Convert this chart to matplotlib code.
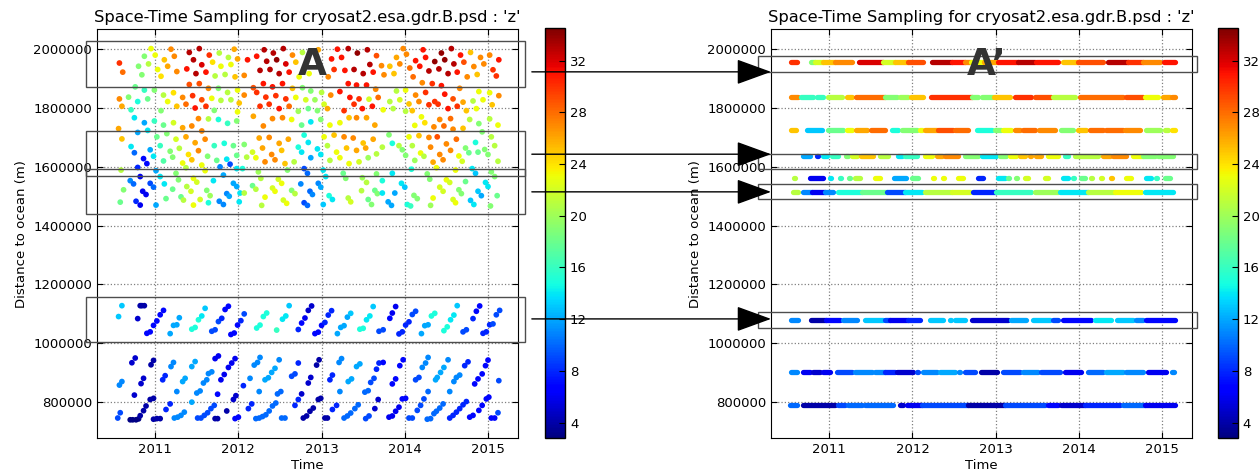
import numpy as np
import matplotlib
matplotlib.use("Agg")
import matplotlib.pyplot as plt
from matplotlib.patches import Rectangle, ConnectionPatch
from matplotlib.collections import LineCollection
import matplotlib.transforms as mtransforms

# ---- left panel: (time in years, distance in km, z) ----
upper_pts = [
    # 2010.5 - 2012
    (2010.95, 2002, 23), (2011.19, 2000, 27), (2011.41, 1989, 33), (2011.53, 2002, 33), (2011.65, 1980, 30),
    (2011.77, 1987, 21), (2011.95, 2000, 26), (2010.57, 1953, 30), (2010.61, 1922, 28), (2010.80, 1942, 19),
    (2010.87, 1976, 19), (2010.92, 1950, 21), (2010.84, 1913, 19), (2011.00, 1980, 23), (2011.11, 1964, 25),
    (2011.15, 1942, 26), (2011.23, 1976, 27), (2011.03, 1931, 23), (2011.07, 1908, 24), (2011.26, 1924, 27),
    (2011.38, 1933, 31), (2011.46, 1964, 33), (2011.49, 1917, 33), (2011.56, 1947, 32), (2011.61, 1922, 31),
    (2011.69, 1956, 24), (2011.72, 1909, 21), (2011.79, 1942, 23), (2011.84, 1914, 21), (2011.88, 1972, 21),
    (2011.91, 1948, 23), (2011.96, 1906, 25), (2011.99, 1967, 26),
    (2010.76, 1872, 18), (2010.87, 1861, 16), (2010.99, 1861, 19), (2011.10, 1844, 21), (2011.22, 1852, 24),
    (2011.33, 1836, 27), (2011.41, 1880, 29), (2011.53, 1883, 29), (2011.45, 1842, 30), (2011.64, 1867, 27),
    (2011.76, 1867, 19), (2011.87, 1853, 21), (2011.99, 1861, 23), (2010.57, 1831, 27), (2010.68, 1837, 19),
    (2010.79, 1822, 15), (2010.91, 1831, 18), (2011.15, 1822, 23), (2011.26, 1806, 25), (2011.37, 1813, 28),
    (2011.56, 1828, 29), (2011.68, 1833, 23), (2011.79, 1826, 21), (2011.91, 1828, 21), (2012.01, 1817, 25),
    (2010.60, 1806, 26), (2010.71, 1794, 16), (2011.07, 1791, 19), (2011.48, 1800, 31), (2011.61, 1806, 30),
    (2011.71, 1792, 19), (2011.99, 1787, 23), (2010.75, 1767, 14), (2010.87, 1750, 12), (2010.99, 1756, 16),
    (2011.10, 1742, 18), (2011.22, 1750, 22), (2011.33, 1733, 26), (2011.44, 1739, 27), (2011.52, 1764, 27),
    (2011.64, 1763, 21), (2011.76, 1761, 15), (2011.87, 1748, 16), (2011.98, 1756, 19),
    (2010.56, 1730, 26), (2010.60, 1695, 25), (2010.79, 1717, 12), (2010.91, 1724, 14), (2011.02, 1702, 18),
    (2011.14, 1713, 19), (2011.25, 1694, 22), (2011.37, 1702, 26), (2011.48, 1682, 26), (2011.56, 1722, 27),
    (2011.60, 1694, 27), (2011.71, 1672, 16), (2011.83, 1680, 15), (2011.94, 1672, 18), (2010.71, 1669, 14),
    (2010.75, 1648, 10), (2010.94, 1658, 12), (2011.06, 1672, 16), (2011.18, 1653, 19), (2011.29, 1663, 21),
    (2011.40, 1642, 24), (2011.44, 1624, 25), (2011.52, 1655, 27), (2011.63, 1636, 19), (2011.74, 1622, 18),
    (2011.86, 1626, 14), (2011.98, 1639, 18), (2010.86, 1628, 7), (2010.90, 1611, 7), (2010.98, 1636, 14),
    (2011.10, 1620, 17), (2011.21, 1633, 19), (2011.33, 1613, 23), (2011.37, 1597, 21), (2011.56, 1606, 23),
    (2011.60, 1587, 23), (2011.78, 1600, 11), (2011.90, 1609, 9), (2011.98, 1594, 14),
    (2010.59, 1589, 21), (2010.79, 1598, 8), (2010.82, 1567, 6), (2011.01, 1587, 12), (2011.06, 1567, 14),
    (2011.25, 1578, 19), (2011.28, 1556, 19), (2011.46, 1561, 23), (2011.50, 1548, 22), (2011.70, 1553, 14),
    (2011.82, 1572, 12), (2011.94, 1544, 12), (2011.98, 1533, 12), (2010.70, 1553, 11), (2010.74, 1542, 10),
    (2010.85, 1517, 6), (2010.89, 1506, 6), (2010.94, 1544, 9), (2010.98, 1531, 10), (2011.11, 1542, 14),
    (2011.21, 1524, 18), (2011.38, 1533, 21), (2011.43, 1517, 22), (2011.62, 1520, 19), (2011.66, 1502, 20),
    (2011.86, 1509, 11), (2011.89, 1500, 12), (2012.02, 1511, 14), (2010.62, 1522, 19), (2010.58, 1480, 18),
    (2010.77, 1483, 8), (2010.82, 1470, 6), (2011.01, 1470, 12), (2011.13, 1492, 18), (2011.31, 1498, 18),
    (2011.34, 1487, 21), (2011.46, 1470, 23), (2011.54, 1489, 22), (2011.64, 1478, 15), (2011.77, 1483, 11),
    (2011.82, 1472, 11), (2012.01, 1481, 14),
    # 2012 - 2013.7
    (2012.07, 1911, 27), (2012.11, 1964, 31), (2012.22, 1976, 31), (2012.31, 1998, 33), (2012.34, 1959, 33),
    (2012.42, 1987, 33), (2012.46, 1964, 34), (2012.54, 2002, 33), (2012.57, 1950, 32), (2012.26, 1928, 33),
    (2012.38, 1931, 33), (2012.49, 1917, 33), (2012.61, 1922, 31), (2012.65, 1980, 27), (2012.69, 1956, 25),
    (2012.77, 1989, 21), (2012.73, 1906, 23), (2012.85, 1917, 23), (2012.96, 1998, 26), (2013.12, 1967, 31),
    (2013.19, 2000, 31), (2013.24, 1972, 31), (2013.32, 2002, 33), (2013.43, 1987, 34), (2013.55, 1998, 33),
    (2013.66, 1978, 29), (2013.08, 1906, 27), (2013.15, 1931, 30), (2013.28, 1928, 31), (2013.39, 1931, 33),
    (2013.50, 1917, 33), (2013.58, 1948, 33), (2013.62, 1922, 31), (2013.72, 1944, 27),
    (2012.07, 1844, 27), (2012.18, 1869, 29), (2012.30, 1883, 31), (2012.41, 1872, 31), (2012.53, 1883, 31),
    (2012.65, 1867, 25), (2012.77, 1869, 19), (2012.87, 1858, 19), (2013.00, 1853, 21), (2012.22, 1853, 30),
    (2012.33, 1837, 30), (2012.45, 1842, 30), (2012.57, 1831, 30), (2012.69, 1836, 23), (2012.81, 1828, 22),
    (2012.92, 1828, 20), (2013.03, 1813, 22), (2013.11, 1844, 27), (2013.22, 1856, 31), (2013.32, 1883, 31),
    (2013.42, 1878, 31), (2013.54, 1878, 31), (2013.65, 1864, 27), (2013.34, 1836, 31), (2013.45, 1831, 30),
    (2013.57, 1830, 22), (2013.68, 1836, 28), (2012.26, 1806, 30), (2012.37, 1813, 30), (2012.49, 1798, 31),
    (2012.61, 1806, 28), (2012.72, 1789, 20), (2012.84, 1798, 18), (2012.95, 1791, 19), (2013.07, 1798, 26),
    (2013.27, 1791, 30), (2013.39, 1813, 30), (2013.49, 1798, 31), (2013.61, 1806, 31), (2012.18, 1772, 26),
    (2012.30, 1739, 27), (2012.41, 1764, 27), (2012.53, 1767, 27), (2012.64, 1761, 23), (2012.76, 1742, 18),
    (2012.87, 1753, 14), (2012.99, 1761, 19), (2013.10, 1742, 23), (2013.22, 1750, 23), (2013.33, 1767, 25),
    (2013.42, 1767, 27), (2013.54, 1767, 26), (2013.64, 1742, 26),
    (2012.07, 1676, 19), (2012.25, 1698, 26), (2012.37, 1700, 27), (2012.49, 1680, 26), (2012.60, 1694, 26),
    (2012.79, 1708, 15), (2012.84, 1683, 14), (2012.72, 1667, 15), (2013.03, 1702, 23), (2013.15, 1708, 25),
    (2013.27, 1702, 27), (2013.38, 1698, 27), (2013.50, 1681, 25), (2013.62, 1694, 26), (2012.17, 1650, 22),
    (2012.29, 1664, 26), (2012.40, 1642, 27), (2012.52, 1656, 25), (2012.76, 1650, 14), (2012.95, 1661, 14),
    (2013.07, 1672, 21), (2013.18, 1650, 23), (2013.30, 1664, 25), (2013.42, 1656, 26), (2013.53, 1664, 26),
    (2013.66, 1644, 21), (2012.10, 1633, 21), (2012.21, 1631, 23), (2012.32, 1617, 27), (2012.44, 1624, 27),
    (2012.56, 1611, 25), (2012.67, 1617, 21), (2012.87, 1631, 12), (2012.99, 1642, 14), (2013.10, 1622, 21),
    (2013.22, 1631, 23), (2013.33, 1611, 23), (2013.45, 1617, 22), (2013.56, 1631, 20),
    (2012.05, 1594, 15), (2012.24, 1583, 20), (2012.27, 1561, 21), (2012.48, 1558, 22), (2012.52, 1544, 23),
    (2012.59, 1589, 19), (2012.79, 1594, 9), (2012.83, 1578, 10), (2013.02, 1589, 14), (2013.05, 1567, 14),
    (2013.26, 1578, 18), (2013.29, 1561, 19), (2013.49, 1563, 20), (2013.54, 1547, 21), (2013.66, 1576, 19),
    (2012.07, 1511, 21), (2012.17, 1536, 18), (2012.21, 1524, 21), (2012.41, 1528, 22), (2012.44, 1517, 23),
    (2012.64, 1520, 19), (2012.68, 1509, 21), (2012.75, 1542, 11), (2012.86, 1517, 10), (2012.89, 1506, 11),
    (2012.96, 1544, 11), (2012.99, 1531, 12), (2013.09, 1502, 15), (2013.13, 1489, 14), (2013.48, 1519, 21),
    (2013.64, 1520, 18), (2013.67, 1509, 19), (2012.28, 1469, 21), (2012.32, 1497, 23), (2012.54, 1487, 22),
    (2012.58, 1476, 23), (2012.79, 1478, 9), (2012.83, 1469, 10), (2013.02, 1472, 13), (2013.32, 1494, 21),
    (2013.35, 1481, 22), (2013.56, 1489, 18), (2013.60, 1472, 19),
    # 2013.7 - 2015.2
    (2013.98, 2002, 27), (2013.90, 1972, 26), (2014.02, 1983, 27), (2013.82, 1942, 25), (2013.94, 1950, 27),
    (2014.06, 1936, 28), (2013.75, 1913, 27), (2013.87, 1917, 25), (2014.10, 1906, 28), (2014.13, 1961, 31),
    (2014.18, 1942, 31), (2014.22, 1998, 31), (2014.25, 1972, 31), (2014.29, 1926, 33), (2014.36, 1958, 34),
    (2014.41, 1933, 33), (2014.44, 1987, 34), (2014.48, 1964, 34), (2014.52, 1917, 33), (2014.56, 2002, 33),
    (2014.59, 1950, 33), (2014.63, 1922, 31), (2014.67, 1980, 31), (2014.71, 1956, 29), (2014.75, 1906, 27),
    (2014.79, 1989, 25), (2014.83, 1941, 27), (2014.87, 1914, 25), (2014.91, 1972, 27), (2014.95, 1950, 27),
    (2015.02, 1980, 27), (2015.06, 1930, 30), (2015.10, 1909, 30), (2015.13, 1964, 31),
    (2014.21, 1886, 27), (2014.33, 1883, 30), (2014.44, 1876, 31), (2014.66, 1867, 27), (2013.82, 1822, 21),
    (2013.90, 1858, 21), (2013.94, 1828, 22), (2014.01, 1861, 23), (2014.05, 1814, 25), (2014.13, 1844, 27),
    (2014.17, 1822, 27), (2014.25, 1853, 30), (2014.29, 1811, 30), (2014.36, 1822, 30), (2014.40, 1813, 30),
    (2014.48, 1847, 31), (2014.52, 1798, 31), (2014.58, 1831, 29), (2014.63, 1806, 30), (2014.70, 1820, 26),
    (2014.74, 1791, 25), (2014.82, 1824, 21), (2014.86, 1798, 23), (2014.89, 1856, 23), (2014.94, 1828, 23),
    (2015.02, 1852, 23), (2015.05, 1811, 25), (2015.13, 1842, 27), (2013.74, 1794, 23), (2013.86, 1798, 21),
    (2014.01, 1789, 21), (2014.09, 1791, 25), (2014.20, 1770, 23), (2014.24, 1750, 24), (2014.12, 1741, 23),
    (2014.35, 1736, 27), (2014.42, 1761, 27), (2014.47, 1739, 28), (2014.55, 1764, 28), (2014.58, 1728, 27),
    (2014.70, 1731, 25), (2014.78, 1761, 21), (2014.89, 1747, 19), (2015.02, 1763, 21), (2015.12, 1742, 23),
    (2013.81, 1709, 19), (2013.85, 1680, 15), (2013.93, 1672, 21), (2014.05, 1702, 23), (2014.09, 1672, 21),
    (2014.17, 1706, 25), (2014.29, 1700, 27), (2014.31, 1667, 27), (2014.39, 1702, 29), (2014.50, 1678, 27),
    (2014.55, 1656, 27), (2014.62, 1694, 28), (2014.73, 1664, 19), (2014.77, 1648, 18), (2014.85, 1683, 15),
    (2014.93, 1719, 19), (2014.96, 1659, 19), (2015.04, 1702, 21), (2015.08, 1672, 21), (2013.73, 1667, 21),
    (2013.97, 1658, 19), (2014.01, 1639, 19), (2014.12, 1622, 20), (2014.19, 1647, 23), (2014.23, 1636, 21),
    (2014.34, 1616, 26), (2014.42, 1642, 27), (2014.46, 1624, 27), (2014.65, 1637, 23), (2014.69, 1619, 22),
    (2014.88, 1650, 18), (2015.00, 1642, 19), (2015.12, 1619, 21),
    (2013.85, 1578, 14), (2013.73, 1553, 15), (2014.08, 1592, 15), (2014.27, 1576, 19), (2014.30, 1558, 19),
    (2014.38, 1597, 23), (2014.50, 1556, 23), (2014.54, 1547, 22), (2014.61, 1589, 23), (2014.73, 1550, 18),
    (2014.81, 1594, 14), (2014.85, 1578, 13), (2014.97, 1547, 14), (2015.04, 1583, 19), (2015.08, 1567, 19),
    (2013.96, 1544, 14), (2014.00, 1531, 13), (2014.11, 1503, 19), (2014.15, 1492, 19), (2014.42, 1531, 22),
    (2014.46, 1517, 22), (2014.65, 1522, 19), (2014.68, 1509, 19), (2014.88, 1517, 13), (2014.92, 1502, 12),
    (2015.00, 1533, 14), (2015.11, 1502, 18), (2013.73, 1511, 14), (2013.88, 1511, 12), (2013.80, 1481, 12),
    (2013.84, 1469, 12), (2014.03, 1472, 15), (2014.07, 1467, 16), (2014.31, 1469, 20), (2014.34, 1494, 23),
    (2014.58, 1489, 22), (2014.61, 1478, 23), (2014.79, 1486, 13), (2014.83, 1472, 14), (2015.03, 1467, 19),
]

middle_pts = [
    (2010.56, 1091, 13), (2010.60, 1128, 13), (2010.79, 1084, 5), (2010.82, 1128, 4), (2010.84, 1128, 4),
    (2010.87, 1128, 4), (2010.90, 1034, 7), (2010.94, 1039, 7), (2010.98, 1061, 7), (2011.02, 1076, 7),
    (2011.06, 1097, 7), (2011.10, 1112, 7), (2011.18, 1033, 12), (2011.22, 1061, 12), (2011.26, 1063, 12),
    (2011.29, 1087, 12), (2011.44, 1048, 15), (2011.48, 1054, 15), (2011.52, 1080, 15), (2011.56, 1093, 14),
    (2011.60, 1119, 13), (2011.68, 1041, 9), (2011.72, 1046, 9), (2011.76, 1074, 9), (2011.80, 1085, 8),
    (2011.84, 1115, 7), (2011.88, 1126, 7), (2011.91, 1030, 7), (2011.95, 1035, 7), (2011.99, 1062, 7),
    (2012.03, 1077, 8), (2012.07, 1100, 9), (2012.22, 1052, 15), (2012.26, 1062, 15), (2012.30, 1091, 15),
    (2012.34, 1103, 15), (2012.46, 1045, 16), (2012.53, 1082, 14), (2012.57, 1093, 14), (2012.61, 1128, 13),
    (2012.72, 1047, 8), (2012.76, 1069, 7), (2012.80, 1086, 6), (2012.84, 1112, 5), (2012.88, 1127, 5),
    (2012.92, 1033, 7), (2012.96, 1038, 7), (2013.00, 1061, 7), (2013.04, 1071, 8), (2013.08, 1096, 8),
    (2013.12, 1111, 8), (2013.19, 1033, 12), (2013.23, 1054, 12), (2013.27, 1060, 12), (2013.31, 1089, 12),
    (2013.35, 1102, 13), (2013.46, 1048, 15), (2013.50, 1051, 15), (2013.54, 1080, 14), (2013.58, 1093, 14),
    (2013.62, 1125, 13), (2013.69, 1041, 9), (2013.74, 1046, 9), (2013.82, 1085, 7), (2013.85, 1103, 6),
    (2013.89, 1125, 6), (2013.93, 1032, 8), (2013.97, 1039, 8), (2014.01, 1062, 8), (2014.05, 1073, 8),
    (2014.09, 1098, 9), (2014.13, 1109, 9), (2014.20, 1033, 12), (2014.24, 1060, 12), (2014.28, 1063, 12),
    (2014.32, 1093, 15), (2014.36, 1102, 15), (2014.47, 1043, 15), (2014.51, 1056, 15), (2014.55, 1080, 14),
    (2014.59, 1096, 14), (2014.63, 1128, 13), (2014.70, 1039, 9), (2014.74, 1046, 9), (2014.82, 1084, 8),
    (2014.86, 1109, 7), (2014.90, 1127, 7), (2014.94, 1034, 8), (2014.98, 1039, 8), (2015.02, 1063, 8),
    (2015.06, 1066, 9), (2015.10, 1097, 9), (2015.14, 1112, 9),
]

lower_pts = [
    (2010.72, 934, 5), (2010.76, 950, 5), (2010.57, 858, 11), (2010.60, 870, 11), (2010.55, 746, 9),
    (2010.58, 764, 9), (2010.75, 824, 5), (2010.83, 863, 5), (2010.86, 881, 5), (2010.95, 927, 4),
    (2010.98, 942, 4), (2010.70, 740, 3), (2010.73, 740, 3), (2010.77, 740, 3), (2010.80, 743, 3),
    (2010.82, 754, 4), (2010.86, 771, 4), (2010.89, 787, 4), (2010.94, 809, 4), (2010.98, 813, 4),
    (2010.98, 742, 4), (2011.02, 744, 4), (2011.06, 744, 4), (2011.09, 876, 8), (2011.12, 890, 8),
    (2011.19, 921, 11), (2011.22, 935, 11), (2011.13, 775, 8), (2011.18, 794, 8), (2011.26, 836, 11),
    (2011.33, 870, 12), (2011.36, 881, 12), (2011.44, 921, 12), (2011.48, 938, 12), (2011.23, 746, 11),
    (2011.27, 749, 11), (2011.31, 755, 11), (2011.35, 766, 11), (2011.44, 800, 12), (2011.50, 831, 11),
    (2011.54, 838, 11), (2011.58, 865, 11), (2011.62, 876, 11), (2011.64, 897, 11), (2011.68, 903, 11),
    (2011.51, 746, 9), (2011.55, 746, 9), (2011.59, 755, 9), (2011.63, 764, 9), (2011.67, 778, 9),
    (2011.71, 789, 9), (2011.72, 948, 6), (2011.76, 957, 6), (2011.75, 827, 7), (2011.79, 876, 6),
    (2011.83, 894, 6), (2011.86, 770, 4), (2011.88, 918, 6), (2011.92, 933, 6), (2011.96, 948, 6),
    (2011.94, 809, 5), (2011.97, 822, 5), (2011.72, 744, 4), (2011.75, 744, 4), (2011.96, 744, 7),
    (2012.00, 749, 7),
    (2012.06, 856, 8), (2012.12, 778, 8), (2012.16, 794, 8), (2012.14, 881, 11), (2012.19, 926, 11),
    (2012.23, 935, 11), (2012.26, 952, 11), (2012.21, 744, 10), (2012.25, 746, 10), (2012.29, 751, 10),
    (2012.33, 757, 10), (2012.37, 770, 10), (2012.41, 787, 10), (2012.45, 797, 10), (2012.25, 836, 11),
    (2012.32, 876, 12), (2012.36, 883, 12), (2012.40, 901, 12), (2012.44, 915, 12), (2012.49, 944, 11),
    (2012.47, 828, 10), (2012.51, 836, 10), (2012.52, 746, 10), (2012.56, 746, 10), (2012.64, 888, 9),
    (2012.68, 896, 9), (2012.72, 933, 8), (2012.68, 789, 8), (2012.72, 809, 8), (2012.76, 828, 5),
    (2012.78, 746, 4), (2012.82, 753, 4), (2012.86, 769, 4), (2012.90, 780, 4), (2012.84, 865, 5),
    (2012.87, 884, 5), (2012.94, 926, 4), (2012.97, 944, 4), (2012.96, 809, 4), (2012.99, 813, 4),
    (2013.04, 746, 4), (2013.07, 746, 4), (2013.10, 876, 8), (2013.13, 892, 8), (2013.21, 935, 11),
    (2013.24, 948, 11), (2013.13, 775, 8), (2013.18, 789, 8), (2013.22, 836, 11), (2013.27, 746, 10),
    (2013.31, 753, 10), (2013.35, 763, 10), (2013.40, 778, 10), (2013.44, 791, 10), (2013.32, 870, 12),
    (2013.36, 879, 12), (2013.42, 921, 12), (2013.46, 930, 12), (2013.52, 834, 10), (2013.56, 839, 10),
    (2013.59, 867, 9), (2013.63, 881, 9), (2013.53, 744, 9), (2013.57, 753, 9), (2013.64, 778, 5),
    (2013.68, 809, 5), (2013.66, 912, 8), (2013.69, 933, 8),
    (2013.74, 935, 7), (2013.85, 862, 7), (2013.89, 879, 7), (2013.94, 924, 7), (2013.98, 944, 7),
    (2013.97, 811, 7), (2014.01, 813, 7), (2013.81, 749, 6), (2013.85, 753, 6), (2013.89, 769, 6),
    (2013.93, 783, 6), (2014.13, 876, 9), (2014.17, 884, 9), (2014.21, 918, 11), (2014.25, 933, 11),
    (2014.28, 952, 11), (2014.05, 746, 9), (2014.09, 746, 9), (2014.15, 772, 9), (2014.19, 789, 9),
    (2014.23, 811, 9), (2014.28, 836, 10), (2014.37, 876, 12), (2014.39, 884, 12), (2014.43, 901, 12),
    (2014.47, 918, 12), (2014.52, 944, 11), (2014.27, 742, 10), (2014.31, 744, 10), (2014.35, 761, 10),
    (2014.38, 769, 10), (2014.42, 780, 10), (2014.46, 794, 10), (2014.54, 836, 11), (2014.59, 870, 11),
    (2014.62, 884, 11), (2014.66, 892, 11), (2014.54, 746, 8), (2014.58, 755, 8), (2014.62, 766, 8),
    (2014.66, 778, 8), (2014.70, 791, 8), (2014.74, 802, 8), (2014.72, 924, 8), (2014.76, 937, 8),
    (2014.78, 749, 7), (2014.82, 755, 7), (2014.89, 772, 7), (2014.93, 789, 7), (2014.84, 862, 7),
    (2014.88, 879, 7), (2014.93, 896, 7), (2014.97, 924, 7), (2015.00, 943, 7), (2014.98, 811, 7),
    (2015.01, 817, 7), (2015.04, 746, 7), (2015.08, 746, 7), (2015.12, 764, 9), (2015.13, 873, 9),
]

# ---- right panel: tracks (km) and runs of samples (t_start, t_end, z) ----
track_dist = [1956, 1839, 1724, 1636, 1561, 1514, 1080, 904, 790]
track_runs = [
    [(2010.54, 2010.61, 30), (2010.78, 2010.83, 19), (2010.83, 2010.93, 22), (2010.93, 2011.07, 25),
     (2011.07, 2011.27, 27), (2011.36, 2011.65, 32), (2011.65, 2011.79, 22), (2011.79, 2011.95, 25),
     (2011.95, 2012.13, 29), (2012.23, 2012.47, 33), (2012.47, 2012.63, 31), (2012.63, 2012.70, 27),
     (2012.70, 2012.86, 23), (2012.86, 2013.03, 26), (2013.03, 2013.27, 31), (2013.27, 2013.47, 33),
     (2013.49, 2013.75, 31), (2013.81, 2013.99, 25), (2013.99, 2014.29, 29), (2014.35, 2014.59, 33),
     (2014.59, 2014.77, 30), (2014.77, 2014.97, 27), (2015.02, 2015.15, 31)],
    [(2010.54, 2010.62, 27), (2010.66, 2010.81, 16), (2010.85, 2010.93, 16), (2010.98, 2011.15, 21),
     (2011.21, 2011.27, 25), (2011.32, 2011.67, 28), (2011.67, 2011.81, 19), (2011.85, 2011.95, 20),
     (2011.98, 2012.13, 25), (2012.22, 2012.71, 30), (2012.71, 2012.79, 19), (2012.83, 2012.97, 19),
     (2012.98, 2013.17, 25), (2013.23, 2013.43, 30), (2013.47, 2013.67, 29), (2013.69, 2013.95, 21),
     (2014.01, 2014.53, 28), (2014.57, 2014.77, 29), (2014.79, 2014.95, 23), (2015.01, 2015.09, 26),
     (2015.12, 2015.15, 27)],
    [(2010.54, 2010.60, 25), (2010.73, 2010.91, 13), (2010.98, 2011.17, 18), (2011.21, 2011.27, 23),
     (2011.32, 2011.45, 26), (2011.50, 2011.67, 28), (2011.75, 2011.83, 15), (2011.87, 2012.05, 19),
     (2012.09, 2012.12, 23), (2012.15, 2012.29, 26), (2012.31, 2012.49, 29), (2012.51, 2012.67, 28),
     (2012.78, 2012.95, 15), (2012.99, 2013.07, 19), (2013.09, 2013.19, 23), (2013.23, 2013.29, 27),
     (2013.33, 2013.47, 28), (2013.52, 2013.71, 27), (2013.79, 2013.93, 19), (2013.99, 2014.09, 25),
     (2014.13, 2014.29, 28), (2014.33, 2014.53, 28), (2014.55, 2014.73, 27), (2014.81, 2014.97, 20),
     (2015.03, 2015.07, 21), (2015.12, 2015.15, 24)],
    [(2010.69, 2010.77, 12), (2010.85, 2010.87, 8), (2010.92, 2010.97, 14), (2011.03, 2011.11, 16),
     (2011.20, 2011.22, 19), (2011.27, 2011.33, 22), (2011.38, 2011.53, 25), (2011.61, 2011.71, 21),
     (2011.83, 2011.87, 14), (2011.91, 2012.05, 16), (2012.15, 2012.23, 23), (2012.29, 2012.35, 26),
     (2012.39, 2012.55, 27), (2012.63, 2012.79, 19), (2012.83, 2013.01, 14), (2013.05, 2013.13, 19),
     (2013.17, 2013.25, 23), (2013.29, 2013.35, 25), (2013.41, 2013.43, 26), (2013.49, 2013.55, 26),
     (2013.63, 2013.75, 23), (2013.83, 2013.87, 16), (2013.95, 2014.23, 21), (2014.29, 2014.37, 26),
     (2014.41, 2014.57, 27), (2014.65, 2014.77, 23), (2014.77, 2014.91, 19), (2014.95, 2015.13, 19)],
    [(2010.58, 2010.59, 21), (2010.77, 2010.93, 6), (2011.01, 2011.02, 14), (2011.13, 2011.14, 16),
     (2011.24, 2011.25, 18), (2011.31, 2011.37, 21), (2011.55, 2011.61, 23), (2011.78, 2011.92, 12),
     (2012.00, 2012.07, 18), (2012.25, 2012.26, 23), (2012.37, 2012.38, 23), (2012.55, 2012.61, 23),
     (2012.79, 2012.85, 8), (2013.03, 2013.11, 14), (2013.15, 2013.16, 18), (2013.25, 2013.26, 19),
     (2013.35, 2013.39, 22), (2013.59, 2013.63, 22), (2013.81, 2013.87, 14), (2013.93, 2013.94, 16),
     (2014.03, 2014.07, 18), (2014.15, 2014.16, 21), (2014.27, 2014.28, 22), (2014.39, 2014.40, 25),
     (2014.57, 2014.63, 23), (2014.81, 2014.87, 14), (2014.93, 2014.94, 16), (2015.03, 2015.09, 18)],
    [(2010.57, 2010.63, 21), (2010.68, 2010.79, 11), (2010.79, 2010.95, 6), (2010.95, 2011.05, 11),
     (2011.10, 2011.39, 15), (2011.39, 2011.69, 18), (2011.69, 2011.91, 9), (2011.91, 2012.11, 14),
     (2012.15, 2012.47, 21), (2012.47, 2012.69, 22), (2012.73, 2013.01, 8), (2013.01, 2013.43, 16),
     (2013.47, 2013.75, 20), (2013.77, 2014.11, 14), (2014.11, 2014.43, 21), (2014.43, 2014.75, 23),
     (2014.79, 2015.13, 14)],
    [(2010.54, 2010.62, 11), (2010.78, 2010.96, 4), (2010.96, 2011.13, 7), (2011.17, 2011.33, 11),
     (2011.43, 2011.65, 13), (2011.67, 2011.73, 9), (2011.73, 2011.95, 6), (2011.95, 2012.09, 8),
     (2012.21, 2012.37, 13), (2012.45, 2012.46, 13), (2012.51, 2012.63, 13), (2012.71, 2013.15, 5),
     (2013.19, 2013.37, 12), (2013.45, 2013.65, 13), (2013.69, 2013.75, 9), (2013.81, 2014.15, 7),
     (2014.19, 2014.39, 14), (2014.46, 2014.65, 13), (2014.69, 2014.77, 11), (2014.81, 2015.15, 7)],
    [(2010.54, 2010.61, 11), (2010.69, 2010.77, 6), (2010.81, 2010.89, 5), (2010.93, 2011.01, 6),
     (2011.09, 2011.27, 9), (2011.31, 2011.51, 11), (2011.55, 2011.67, 11), (2011.67, 2011.79, 8),
     (2011.81, 2012.01, 5), (2012.05, 2012.07, 9), (2012.13, 2012.29, 11), (2012.33, 2012.51, 12),
     (2012.56, 2012.57, 11), (2012.63, 2012.75, 9), (2012.82, 2013.02, 4), (2013.09, 2013.29, 9),
     (2013.33, 2013.51, 11), (2013.55, 2013.77, 9), (2013.83, 2014.03, 6), (2014.11, 2014.29, 10),
     (2014.33, 2014.53, 12), (2014.57, 2014.77, 11), (2014.83, 2015.05, 6), (2015.12, 2015.14, 11)],
    [(2010.53, 2010.61, 10), (2010.68, 2011.07, 4), (2011.11, 2011.19, 9), (2011.23, 2011.39, 10),
     (2011.43, 2011.77, 10), (2011.85, 2011.89, 5), (2011.93, 2012.11, 6), (2012.11, 2012.67, 9),
     (2012.67, 2013.11, 4), (2013.11, 2013.59, 9), (2013.63, 2013.75, 7), (2013.79, 2014.07, 5),
     (2014.07, 2014.49, 8), (2014.53, 2014.79, 10), (2014.79, 2015.15, 6)],
]

# ---- highlight boxes (km) and arrows ----
left_boxes = [(1873, 2028), (1569, 1721), (1441, 1593), (1006, 1158)]
right_boxes = [(1923, 1977), (1593, 1643), (1491, 1542), (1053, 1107)]
arrow_dist = [1923, 1643, 1515, 1083]

title = "Space-Time Sampling for cryosat2.esa.gdr.B.psd : 'z'"
zmin, zmax = 2.8, 34.5
cmap = plt.get_cmap('jet')
norm = matplotlib.colors.Normalize(vmin=zmin, vmax=zmax)

fig = plt.figure(figsize=(12.59, 4.71), dpi=100)
ax1 = fig.add_axes([0.077, 0.070, 0.3344, 0.868])
cax1 = fig.add_axes([0.4329, 0.070, 0.0159, 0.870])
ax2 = fig.add_axes([0.6124, 0.070, 0.3344, 0.868])
cax2 = fig.add_axes([0.9674, 0.070, 0.0159, 0.870])

pts = np.array(upper_pts + middle_pts + lower_pts, dtype=float)
sc = ax1.scatter(pts[:, 0], pts[:, 1] * 1000, c=pts[:, 2], cmap=cmap, norm=norm,
                 s=17, linewidths=0, zorder=3)

segs, cols = [], []
for d, runs in zip(track_dist, track_runs):
    for t0, t1, z in runs:
        segs.append([(t0, d * 1000), (t1, d * 1000)])
        cols.append(cmap(norm(z)))
lc = LineCollection(segs, colors=cols, linewidths=3.8, capstyle='round', zorder=3)
ax2.add_collection(lc)

for ax, boxes, letter in [(ax1, left_boxes, 'A'), (ax2, right_boxes, 'A\u2019')]:
    ax.set_xlim(2010.30, 2015.36)
    ax.set_ylim(678000, 2068000)
    ax.set_xticks([2011, 2012, 2013, 2014, 2015])
    ax.set_xticklabels(['2011', '2012', '2013', '2014', '2015'])
    ax.set_yticks(np.arange(800000, 2000001, 200000))
    ax.yaxis.set_major_formatter(matplotlib.ticker.FormatStrFormatter('%d'))
    ax.grid(True, linestyle=':', color='0.5', linewidth=0.9)
    ax.set_axisbelow(True)
    ax.tick_params(direction='in', top=True, right=True, labelsize=9.5, length=4)
    ax.set_title(title, fontsize=11.7, pad=5)
    ax.set_xlabel('Time', fontsize=9.5, labelpad=2)
    ax.set_ylabel('Distance to ocean (m)', fontsize=9.5)
    trans = mtransforms.blended_transform_factory(ax.transAxes, ax.transData)
    x0 = -0.027 if ax is ax1 else -0.031
    x1 = 1.017 if ax is ax1 else 1.012
    for lo, hi in boxes:
        ax.add_patch(Rectangle((x0, lo * 1000), x1 - x0, (hi - lo) * 1000, transform=trans,
                               fill=False, ec='0.3', lw=1.0, clip_on=False, zorder=5))
    ax.text(2012.89, 1947000, letter, fontsize=27, fontweight='bold', color='#333333',
            ha='center', va='center', zorder=6)

for cax in (cax1, cax2):
    cb = fig.colorbar(sc, cax=cax)
    cb.set_ticks([4, 8, 12, 16, 20, 24, 28, 32])
    cax.tick_params(direction='in', labelsize=9.5, length=4)
    cb.outline.set_linewidth(1.0)

for d in arrow_dist:
    con = ConnectionPatch(xyA=(1.033, d * 1000), coordsA=ax1.get_yaxis_transform(),
                          xyB=(0.0, d * 1000), coordsB=ax2.get_yaxis_transform(),
                          arrowstyle='-|>,head_length=2.2,head_width=0.8', mutation_scale=10,
                          color='k', lw=1.0, shrinkA=0, shrinkB=0, zorder=10)
    fig.add_artist(con)

fig.savefig('out.png', dpi=100)
